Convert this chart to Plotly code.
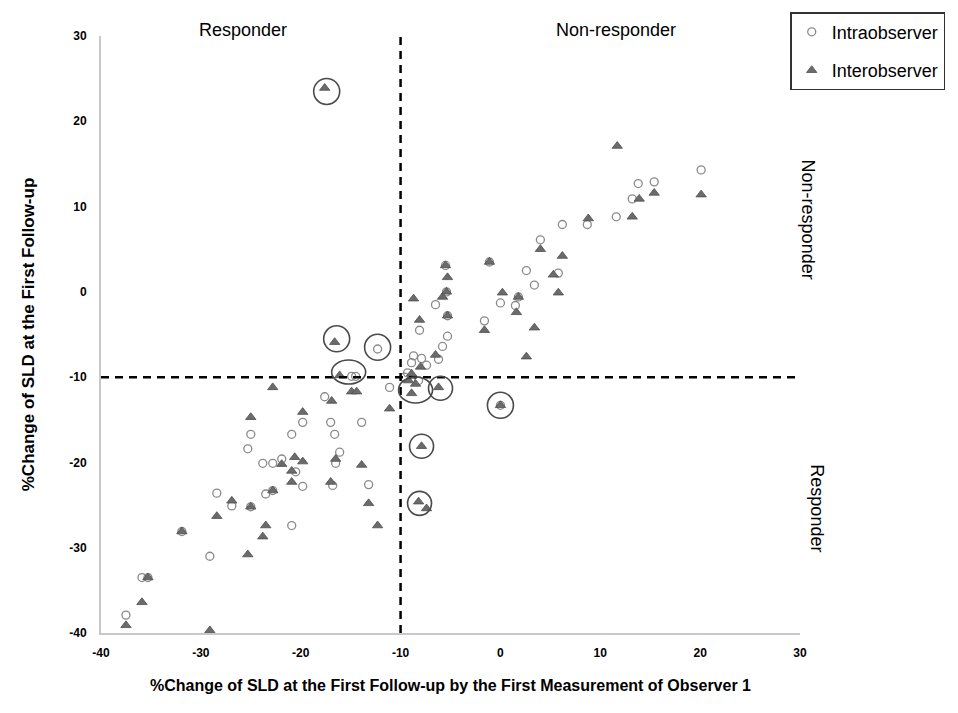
import plotly.graph_objects as go

# ---- data ----
intra_x = [20.1, 13.8, 15.4, 13.2, 11.6, 8.7, 6.2, 4.0, -1.1, -5.5, 2.6, 3.4, 5.8, -6.5, -5.4, 0.0, 1.8, 1.5,
           -8.1, -5.3, -5.3, -5.8, -1.6, -6.2, -8.7, -8.9, -7.9, -7.4, -9.3, -8.2, 0.0, -12.3, -14.9, -14.5,
           -11.1, -17.6, -19.8, -17.0, -13.9, -16.6, -25.0, -20.9, -25.3, -16.1, -23.8, -22.8, -21.9, -20.5,
           -16.5, -19.8, -16.8, -13.2, -22.8, -23.5, -28.4, -26.9, -25.0, -20.9, -31.9, -29.1, -35.9, -35.3,
           -37.5, -9.6]
intra_y = [14.3, 12.7, 12.9, 10.9, 8.8, 7.9, 7.9, 6.1, 3.5, 3.1, 2.5, 0.8, 2.2, -1.5, 0.0, -1.3, -0.6, -1.6,
           -4.5, -2.8, -5.2, -6.4, -3.4, -7.9, -7.5, -8.3, -7.8, -8.6, -9.5, -10.4, -13.3, -6.7, -9.9, -9.9,
           -11.2, -12.3, -15.3, -15.3, -15.3, -16.7, -16.7, -16.7, -18.4, -18.8, -20.1, -20.1, -19.6, -21.1,
           -20.1, -22.8, -22.7, -22.6, -23.3, -23.7, -23.6, -25.1, -25.2, -27.4, -28.1, -31.0, -33.5, -33.5,
           -37.9, -10.0]

inter_x = [11.7, 13.9, 15.4, 20.1, 13.2, 8.8, 4.0, 6.2, -1.1, -5.5, -5.3, 5.3, 5.8, -8.7, -5.8, -5.4, 0.2,
           1.8, 1.6, -8.1, -5.3, -1.6, 3.4, -6.5, 2.6, -8.0, -8.9, -9.2, -8.5, -8.9, -6.2, 0.0, -16.6, -16.1,
           -14.9, -14.4, -16.9, -19.8, -11.1, -22.8, -25.0, -21.9, -20.6, -19.8, -20.9, -16.5, -13.9, -20.9,
           -17.0, -22.8, -26.9, -25.0, -13.2, -28.4, -23.5, -12.3, -23.8, -31.9, -25.3, -35.3, -35.9, -37.5,
           -29.1, -17.6, -7.9, -8.2, -7.4]
inter_y = [17.1, 10.9, 11.6, 11.4, 8.8, 8.6, 5.0, 4.2, 3.5, 3.1, 1.7, 2.0, -0.1, -0.8, -0.6, 0.0, -0.1,
           -0.6, -2.4, -3.3, -2.8, -4.5, -4.2, -7.4, -7.6, -8.8, -9.6, -10.4, -10.8, -11.9, -11.2, -13.3, -5.9,
           -9.8, -11.7, -11.7, -12.8, -14.1, -13.7, -11.2, -14.7, -20.2, -19.4, -19.9, -21.0, -19.6, -20.3,
           -22.3, -22.3, -23.3, -24.5, -25.2, -24.8, -26.3, -27.4, -27.4, -28.7, -28.1, -30.8, -33.5, -36.4,
           -39.1, -39.7, 23.9, -18.1, -24.6, -25.4]

# highlighted (circled) discordant cases: centre in data units
highlight_x = [-17.4, -16.4, -12.3, -15.2, -8.5, -6.0, 0.0, -7.9, -8.1]
highlight_y = [23.5, -5.5, -6.5, -9.4, -11.5, -11.3, -13.3, -18.1, -24.8]
highlight_rx = [13, 13, 13, 17, 17, 12, 13, 12, 12]   # pixel radii (style)
highlight_ry = [13, 13, 13, 12, 13, 12, 13, 12, 12]

threshold = -10
x_ticks = [-40, -30, -20, -10, 0, 10, 20, 30]
y_ticks = [-40, -30, -20, -10, 0, 10, 20, 30]

FONT = "Arial, Liberation Sans, sans-serif"

fig = go.Figure()
fig.add_trace(go.Scatter(
    x=intra_x, y=intra_y, mode="markers", name="Intraobserver", legendgroup="a",
    marker=dict(symbol="circle-open", size=8, color="#8a8a8a", line=dict(width=1.3, color="#8a8a8a")),
))
fig.add_trace(go.Scatter(
    x=inter_x, y=inter_y, mode="markers", name="Interobserver", legendgroup="b",
    marker=dict(symbol="triangle-up", size=9, color="#6b6b6b", line=dict(width=0.8, color="#4f4f4f")),
))

shapes = []
# threshold dashed lines
shapes.append(dict(type="line", xref="x", yref="y", x0=threshold, x1=threshold, y0=y_ticks[0], y1=y_ticks[-1],
                   line=dict(color="black", width=2.5, dash="8px,6px")))
shapes.append(dict(type="line", xref="x", yref="y", x0=x_ticks[0], x1=x_ticks[-1], y0=threshold, y1=threshold,
                   line=dict(color="black", width=2.5, dash="8px,6px")))
for hx, hy, rx, ry in zip(highlight_x, highlight_y, highlight_rx, highlight_ry):
    shapes.append(dict(type="circle", xref="x", yref="y", xsizemode="pixel", ysizemode="pixel",
                       xanchor=hx, yanchor=hy, x0=-rx, x1=rx, y0=-ry, y1=ry,
                       line=dict(color="#4a4a4a", width=1.6)))

annotations = [
    dict(text="Responder", xref="x", yref="paper", x=-25.8, y=1.010, showarrow=False,
         xanchor="center", yanchor="middle",
         font=dict(size=18, color="black", family=FONT)),
    dict(text="Non-responder", xref="x", yref="paper", x=11.6, y=1.010, showarrow=False,
         xanchor="center", yanchor="middle",
         font=dict(size=18, color="black", family=FONT)),
    dict(text="Non-responder", xref="paper", yref="paper", x=1.011, y=0.693, showarrow=False, textangle=90,
         xanchor="center", yanchor="middle",
         font=dict(size=18, color="black", family=FONT)),
    dict(text="Responder", xref="paper", yref="paper", x=1.025, y=0.208, showarrow=False, textangle=90,
         xanchor="center", yanchor="middle",
         font=dict(size=18, color="black", family=FONT)),
]

fig.update_layout(
    width=958, height=713,
    margin=dict(l=101, r=158, t=31, b=80),
    paper_bgcolor="white", plot_bgcolor="white",
    font=dict(family=FONT, color="black"),
    shapes=shapes, annotations=annotations,
    legend=dict(x=0.986, y=1.04, xanchor="left", yanchor="top",
                bordercolor="#333333", borderwidth=1.5, bgcolor="white",
                font=dict(size=18, family=FONT, color="black"),
                tracegroupgap=12, itemwidth=30),
    xaxis=dict(range=[x_ticks[0], x_ticks[-1]], tickvals=x_ticks, ticktext=["<b>%d</b>" % v for v in x_ticks],
               showgrid=False, zeroline=False, showline=True, linecolor="#c8c8c8", linewidth=2,
               ticks="", tickfont=dict(size=12, family=FONT, color="black"),
               ticklabelstandoff=8,
               title=dict(text="<b>%Change of SLD at the First Follow-up by the First Measurement of Observer 1</b>",
                          font=dict(size=16, family=FONT, color="black"), standoff=20)),
    yaxis=dict(range=[y_ticks[0], y_ticks[-1]], tickvals=y_ticks, ticktext=["<b>%d</b>" % v for v in y_ticks],
               showgrid=False, zeroline=False, showline=True, linecolor="#c8c8c8", linewidth=2,
               ticks="", tickfont=dict(size=12, family=FONT, color="black"),
               ticklabelstandoff=10,
               title=dict(text="<b>%Change of SLD at the First Follow-up</b>",
                          font=dict(size=17, family=FONT, color="black"), standoff=30)),
)

fig.write_html("out.html")
